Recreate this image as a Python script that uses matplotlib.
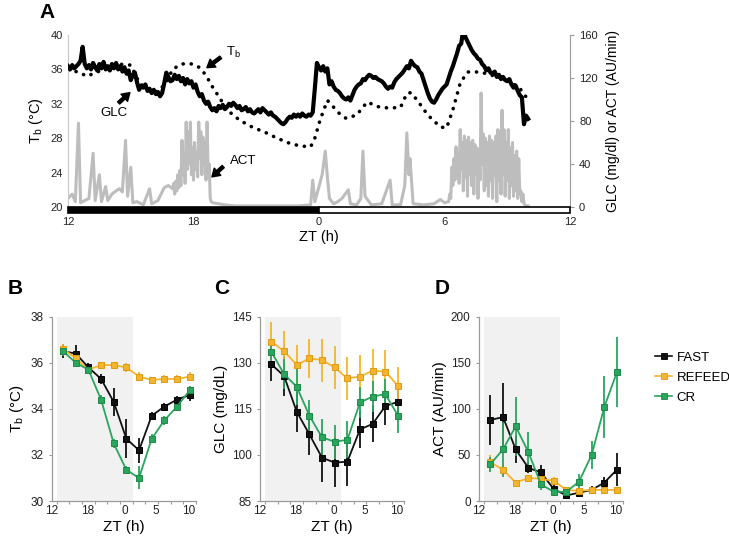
import numpy as np
import matplotlib.pyplot as plt
from matplotlib.lines import Line2D
from matplotlib.patches import Rectangle

plt.rcParams['font.family'] = ['Liberation Sans', 'DejaVu Sans']

# ---- panel A: one recording, hours since ZT12 ----
# glucose sampled every 0.1 h from 0 to 22 h
glc_step = 0.1
glc = [131, 128, 132, 129, 131, 133, 136, 149, 133, 129,
       132, 128, 134, 130, 127, 133, 129, 135, 128, 131,
       127, 133, 129, 134, 128, 131, 126, 130, 124, 127,
       118, 123, 125, 116, 109, 113, 111, 114, 108, 110,
       106, 109, 105, 107, 103, 106, 115, 125, 121, 117,
       118, 123, 119, 122, 117, 120, 114, 119, 115, 117,
       111, 114, 107, 103, 105, 99, 96, 98, 93, 90,
       92, 89, 94, 92, 95, 91, 93, 96, 94, 97,
       95, 92, 94, 90, 91, 93, 89, 91, 88, 87,
       89, 91, 88, 92, 90, 88, 86, 88, 85, 84,
       82, 80, 78, 77, 79, 82, 84, 83, 86, 84,
       86, 84, 87, 85, 84, 86, 85, 88, 110, 134,
       130, 127, 131, 126, 129, 114, 117, 112, 109, 108,
       106, 103, 101, 100, 102, 99, 104, 109, 112, 114,
       115, 119, 118, 121, 123, 122, 120, 121, 119, 118,
       117, 115, 112, 110, 112, 111, 116, 119, 121, 123,
       125, 128, 131, 129, 136, 133, 131, 130, 126, 124,
       118, 112, 106, 101, 98, 97, 100, 104, 107, 110,
       112, 114, 120, 126, 131, 137, 143, 150, 152, 166,
       158, 154, 150, 146, 143, 141, 138, 137, 133, 131,
       127, 129, 125, 124, 126, 121, 123, 119, 121, 118,
       117, 119, 114, 111, 113, 108, 104, 102, 77, 85,
       82]

tb_t = [0.0, 0.5, 0.9, 1.5, 2.0, 2.5, 3.0, 3.4, 3.8, 4.3, 4.7, 5.0, 5.4, 5.7, 6.0, 6.3, 6.6, 6.9,
        7.3, 7.6, 8.2, 8.8, 9.5, 10.0, 10.6, 11.1, 11.6, 11.8, 12.05, 12.4, 12.7, 13.0, 13.3, 13.8,
        14.3, 14.9, 15.4, 15.9, 16.2, 16.4, 16.7, 17.2, 17.8, 18.1, 18.4, 18.75, 19.1, 19.7, 20.3,
        21.0, 21.6, 21.9]
tb = [35.9, 35.7, 35.2, 35.8, 36.3, 36.6, 36.5, 34.5, 33.6, 33.4, 34.5, 36.0, 36.6, 36.7, 36.6,
      36.2, 35.3, 34.0, 32.5, 31.3, 30.1, 29.3, 28.6, 28.0, 27.4, 27.1, 27.0, 28.0, 30.1, 32.4,
      31.6, 30.8, 30.3, 30.7, 32.2, 31.6, 31.5, 31.6, 33.2, 33.3, 32.4, 30.7, 29.3, 29.2, 31.3,
      34.4, 35.7, 35.7, 35.3, 34.8, 33.8, 32.8]

act_t = [0.0, 0.2, 0.35, 0.5, 0.6, 0.8, 1.0, 1.2, 1.3, 1.5, 1.6, 1.8, 1.9, 2.1, 2.3, 2.45, 2.6,
         2.75, 2.85, 3.0, 3.1, 3.3, 3.6, 3.9, 4.0, 4.3, 4.6, 4.8,
         5.0, 5.05, 5.1, 5.15, 5.2, 5.25, 5.3, 5.35, 5.4, 5.45, 5.5, 5.55, 5.6, 5.65, 5.7, 5.75,
         5.8, 5.85, 5.9, 5.95, 6.0, 6.05, 6.1, 6.15, 6.2, 6.25, 6.3, 6.35, 6.4, 6.45, 6.5, 6.55,
         6.6, 6.65, 6.7, 6.75, 6.8, 6.85, 6.9,
         7.5, 8.0, 9.0, 10.0, 11.0,
         11.6, 11.7, 11.8, 12.0, 12.15, 12.3, 12.4, 12.5, 12.7, 12.9, 13.1, 13.4, 13.5, 13.8, 14.0,
         14.1, 14.2, 14.5, 15.0, 15.4, 15.5, 15.9, 16.1, 16.2, 16.3, 16.35, 16.5, 17.0, 17.5, 17.8,
         18.0,
         18.2, 18.25, 18.3, 18.35, 18.4, 18.45, 18.5, 18.55, 18.6, 18.65, 18.7, 18.75, 18.8, 18.85,
         18.9, 18.95, 19.0, 19.05, 19.1, 19.15, 19.2, 19.25, 19.3, 19.35, 19.4, 19.45, 19.5, 19.55,
         19.6, 19.65, 19.7, 19.75, 19.8, 19.85, 19.9, 19.95, 20.0, 20.05, 20.1, 20.15, 20.2, 20.25,
         20.3, 20.35, 20.4, 20.45, 20.5, 20.55, 20.6, 20.65, 20.7, 20.75, 20.8, 20.85, 20.9, 20.95,
         21.0, 21.05, 21.1, 21.15, 21.2, 21.25, 21.3, 21.35, 21.4, 21.45, 21.5, 21.55, 21.6, 21.65,
         21.7, 21.75, 21.8, 21.85, 21.9, 22.0]
act = [8, 12, 5, 78, 4, 6, 8, 50, 6, 30, 5, 19, 6, 12, 15, 17, 14,
       62, 10, 37, 4, 5, 2, 17, 3, 6, 18, 20,
       17, 22, 12, 24, 15, 30, 18, 34, 20, 62, 30, 48, 22, 79, 35, 70,
       40, 79, 30, 55, 25, 60, 35, 50, 28, 79, 45, 70, 30, 65, 40, 60,
       25, 79, 30, 40, 8, 5, 4,
       2, 1, 1, 1, 1,
       2, 25, 5, 19, 30, 52, 28, 8, 3, 5, 8, 16, 3, 2, 8,
       52, 10, 2, 3, 25, 2, 2, 20, 69, 30, 45, 3, 2, 3, 7,
       4,
       5, 12, 8, 37, 20, 45, 25, 56, 30, 50, 22, 72, 35, 60,
       15, 66, 28, 62, 10, 65, 30, 60, 20, 62, 12, 58, 30, 55,
       8, 50, 25, 106, 40, 68, 15, 64, 20, 60, 10, 66, 25, 62,
       8, 60, 30, 66, 5, 72, 25, 70, 12, 90, 30, 72, 10, 60,
       25, 72, 8, 55, 20, 60, 10, 48, 15, 52, 8, 45, 12, 15,
       5, 12, 3, 2, 1, 1]

# ---- panels B-D: 2 h bins ----
bins = ['ZT14', 'ZT16', 'ZT18', 'ZT20', 'ZT22', 'ZT0', 'ZT2', 'ZT4', 'ZT6', 'ZT8', 'ZT10']
groups = ['FAST', 'REFEED', 'CR']

tb_mean = {'FAST':   [36.5, 36.4, 35.8, 35.3, 34.3, 32.7, 32.2, 33.7, 34.1, 34.4, 34.6],
           'REFEED': [36.6, 36.2, 35.7, 35.9, 35.9, 35.8, 35.4, 35.25, 35.3, 35.3, 35.4],
           'CR':     [36.5, 36.0, 35.7, 34.4, 32.5, 31.35, 31.0, 32.7, 33.5, 34.1, 34.8]}
tb_err = {'FAST':   [0.3, 0.35, 0.2, 0.2, 0.6, 0.85, 0.55, 0.15, 0.15, 0.15, 0.25],
          'REFEED': [0.2, 0.15, 0.15, 0.15, 0.15, 0.2, 0.2, 0.15, 0.15, 0.15, 0.2],
          'CR':     [0.2, 0.15, 0.15, 0.2, 0.2, 0.15, 0.5, 0.2, 0.2, 0.2, 0.2]}

glc_mean = {'FAST':   [129.5, 125.7, 114.1, 106.7, 99.1, 97.5, 97.8, 108.3, 110.1, 115.9, 117.3],
            'REFEED': [136.9, 133.8, 129.3, 131.4, 130.9, 128.5, 124.9, 125.5, 127.4, 127.1, 122.5],
            'CR':     [133.6, 126.3, 122.2, 112.8, 105.7, 104.3, 104.9, 117.1, 119.0, 119.8, 112.8]}
glc_err = {'FAST':   [5.5, 6.5, 6.5, 6.8, 8, 8, 8, 6, 6, 6, 5],
           'REFEED': [6.5, 6.5, 6.5, 6.5, 7, 7, 7, 7, 7, 7, 6],
           'CR':     [4, 5, 6, 5, 6, 5.5, 6, 5, 5, 5, 5.5]}

act_mean = {'FAST':   [88, 91, 56, 36, 31, 13, 6, 9, 12, 20, 34],
            'REFEED': [42, 34, 20, 25, 24, 22, 12, 11, 12, 12, 12],
            'CR':     [40, 56, 81, 53, 18, 10, 10, 21, 50, 102, 140]}
act_err = {'FAST':   [27, 37, 15, 6, 8, 4, 3, 3, 4, 6, 18],
           'REFEED': [8, 6, 3, 3, 4, 4, 3, 3, 3, 3, 3],
           'CR':     [8, 30, 32, 22, 6, 3, 3, 8, 15, 34, 38]}

colors = {'FAST': '#111111', 'REFEED': '#F4B52E', 'CR': '#2AA55E'}
edges = {'FAST': '#000000', 'REFEED': '#E09A12', 'CR': '#1C8A47'}

fig = plt.figure(figsize=(7.29, 5.4), dpi=100)
W, H = 729, 540
gray = '#9A9A9A'

# ---------------- panel A ----------------
axA = fig.add_axes([68 / W, 1 - 207 / H, (570 - 68) / W, (207 - 35) / H])
axR = axA.twinx()
axA.set_zorder(2)
axA.patch.set_visible(False)

glc_t = np.arange(len(glc)) * glc_step
axR.plot(act_t, act, color='#BDBDBD', lw=2.2, zorder=1)
axA.plot(tb_t, tb, color='black', lw=2.6, linestyle=(0, (0.05, 2.2)),
         dash_capstyle='round', zorder=2)
axA.plot(glc_t, [20 + g / 8 for g in glc], color='black', lw=3.0,
         solid_joinstyle='round', zorder=3)

axA.set_xlim(0, 24)
axA.set_ylim(20, 40)
axR.set_ylim(0, 160)
axA.set_yticks([20, 24, 28, 32, 36, 40])
axR.set_yticks([0, 40, 80, 120, 160])
axA.set_xticks([0, 6, 12, 18, 24])
axA.set_xticklabels(['12', '18', '0', '6', '12'])
for a in (axA, axR):
    for s in ('top', 'bottom'):
        a.spines[s].set_visible(False)
    a.tick_params(axis='y', labelsize=8, length=3, color=gray, labelcolor='#222222', width=0.8)
axA.spines['right'].set_visible(False)
axR.spines['left'].set_visible(False)
axA.spines['left'].set_color('#C8C8C8')
axR.spines['right'].set_color(gray)
axA.tick_params(axis='y', length=0)
axA.tick_params(axis='x', length=0, labelsize=8, pad=7.5, labelcolor='#222222')

axA.add_patch(Rectangle((0, -0.036), 12, 0.036, transform=axA.get_xaxis_transform(),
                        facecolor='black', edgecolor='black', lw=1.2, clip_on=False, zorder=5))
axA.add_patch(Rectangle((12, -0.036), 12, 0.036, transform=axA.get_xaxis_transform(),
                        facecolor='white', edgecolor='black', lw=1.2, clip_on=False, zorder=5))

axA.set_ylabel('T$_\\mathregular{b}$ (°C)', fontsize=10.5, labelpad=4)
axR.set_ylabel('GLC (mg/dl) or ACT (AU/min)', fontsize=10, labelpad=6)
axA.set_xlabel('ZT (h)', fontsize=10.5, labelpad=2)

arrow = dict(facecolor='black', edgecolor='black', width=2.2, headwidth=7, headlength=5.5, shrink=0)
axA.annotate('', xy=(6.64, 36.2), xytext=(7.3, 37.4), arrowprops=arrow)
axA.text(7.55, 38.0, 'T$_\\mathregular{b}$', fontsize=9.5, ha='left', va='center')
axA.annotate('', xy=(2.96, 33.3), xytext=(2.42, 32.1), arrowprops=arrow)
axA.text(2.2, 30.9, 'GLC', fontsize=9.5, ha='center', va='center')
axA.annotate('', xy=(6.88, 23.5), xytext=(7.42, 24.7), arrowprops=arrow)
axA.text(8.37, 25.35, 'ACT', fontsize=9.5, ha='center', va='center')

# ---------------- panels B-D ----------------
x = np.arange(len(bins))
panel_w = 144.3 / W
panel_h = 184.3 / H
panel_b = 1 - 501 / H
tick_pos = [-0.9, 1.95, 4.9, 7.35, 9.9]
tick_lab = ['12', '18', '0', '5', '10']


def lower_panel(left_px, means, errs, ylim, yticks, ylabel, letter, letter_x):
    ax = fig.add_axes([left_px / W, panel_b, panel_w, panel_h])
    ax.axvspan(-0.5, 5.5, color='#F1F1F1', zorder=0, lw=0)
    for g in groups:
        ax.errorbar(x, means[g], yerr=errs[g], fmt='-s', color=colors[g], ecolor=colors[g],
                    elinewidth=1.3, capsize=0, lw=1.3, ms=5, mfc=colors[g], mec=edges[g],
                    mew=0.7, zorder=3)
    ax.set_xlim(-0.5, 10.5)
    ax.set_ylim(*ylim)
    ax.set_yticks(yticks)
    ax.set_xticks(np.arange(-0.5, 11, 1))
    ax.set_xticklabels([])
    ax.set_xticks(tick_pos, minor=True)
    ax.set_xticklabels(tick_lab, minor=True)
    ax.tick_params(axis='x', which='major', length=2.5, color=gray, width=0.8)
    ax.tick_params(axis='x', which='minor', length=0, labelsize=8.5, pad=3, labelcolor='#222222')
    ax.tick_params(axis='y', length=2.5, color=gray, width=0.8, labelsize=8.5, labelcolor='#222222')
    for s in ('top', 'right'):
        ax.spines[s].set_visible(False)
    for s in ('left', 'bottom'):
        ax.spines[s].set_color(gray)
        ax.spines[s].set_linewidth(0.9)
    ax.set_ylabel(ylabel, fontsize=11, labelpad=3)
    ax.set_xlabel('ZT (h)', fontsize=11, labelpad=2)
    fig.text(letter_x / W, 1 - 289 / H, letter, fontsize=15, fontweight='bold',
             ha='center', va='center')
    return ax


lower_panel(51.7, tb_mean, tb_err, (30, 38), [30, 32, 34, 36, 38],
            'T$_\\mathregular{b}$ (°C)', 'B', 15)
lower_panel(260, glc_mean, glc_err, (85, 145), [85, 100, 115, 130, 145],
            'GLC (mg/dL)', 'C', 222)
lower_panel(479, act_mean, act_err, (0, 200), [0, 50, 100, 150, 200],
            'ACT (AU/min)', 'D', 442)

fig.text(47 / W, 1 - 13 / H, 'A', fontsize=15, fontweight='bold', ha='center', va='center')

handles = [Line2D([], [], color=colors[g], lw=1.2, marker='s', ms=4.5, mfc=colors[g],
                  mec=edges[g], mew=0.6) for g in groups]
fig.legend(handles, groups, loc='upper left', bbox_to_anchor=(650 / W, 1 - 346 / H),
           frameon=False, fontsize=9.5, handlelength=1.3, handletextpad=0.3, labelspacing=0.6,
           borderaxespad=0)

fig.savefig('out.png', dpi=100)
